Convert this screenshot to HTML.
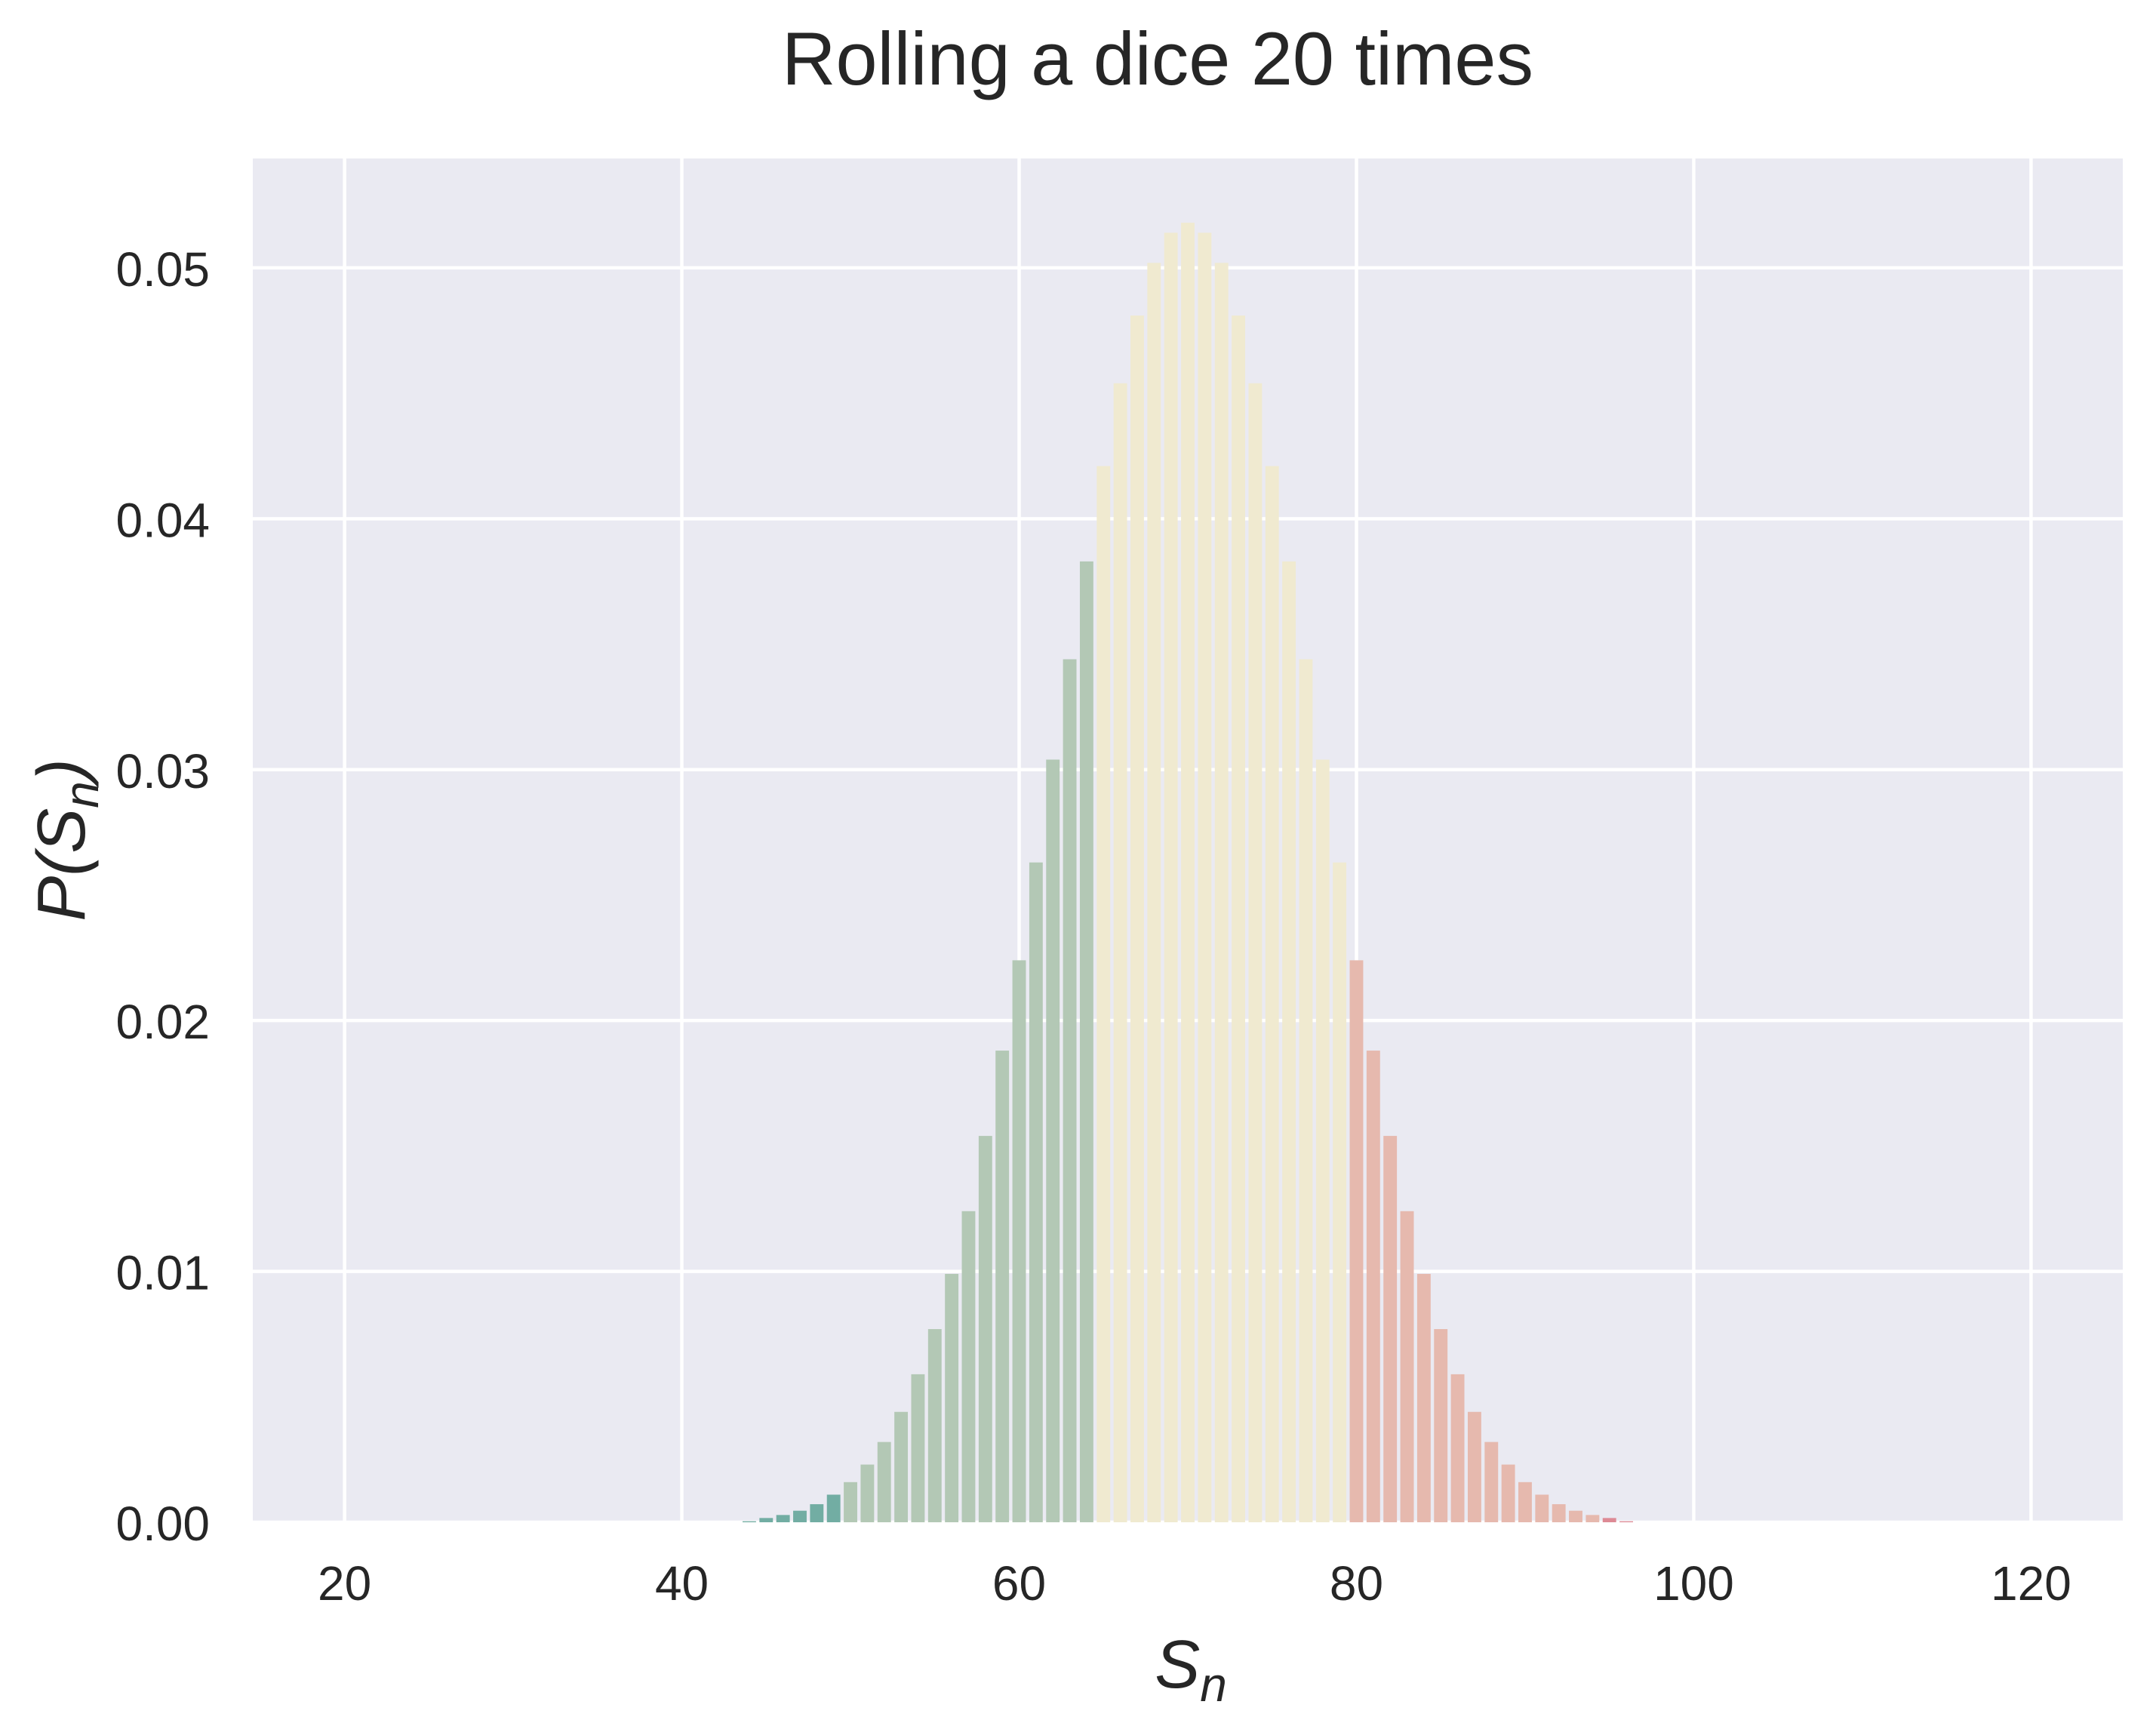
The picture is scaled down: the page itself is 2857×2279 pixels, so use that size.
<!DOCTYPE html>
<html><head><meta charset="utf-8"><style>
html,body{margin:0;padding:0;background:#fff;}
svg{display:block;font-family:"Liberation Sans",sans-serif;}
</style></head><body>
<svg id="chart" width="2857" height="2279" viewBox="0 0 2857 2279" xmlns="http://www.w3.org/2000/svg">
<rect x="0" y="0" width="2857" height="2279" fill="#fff"/>
<text x="1534" y="112" text-anchor="middle" font-size="99" fill="#262626">Rolling a dice 20 times</text>
<rect x="335" y="210" width="2478" height="1807" fill="#eaeaf2"/>
<g id="grid"></g>
<g id="bars"></g>
<g id="xticks"></g>
<g id="yticks"></g>
<text x="1578" y="2236" text-anchor="middle" font-size="90" font-style="italic" fill="#262626">S<tspan font-size="64" dy="18">n</tspan></text>
<text transform="translate(112,1113) rotate(-90)" text-anchor="middle" font-size="90" font-style="italic" fill="#262626">P(S<tspan font-size="64" dy="18">n</tspan><tspan dy="-18">)</tspan></text>
</svg>
<script>
const sums = [];
for (let s = 20; s <= 120; s++) sums.push(s);
// probabilities for sums 20..120
const probs = [
0,0,0,0,0,0,0,0,0,0,            // 20-29
0,0,0,0,0,0,0,0,0,0,            // 30-39
0,0,0,0,0.00004,0.00017,0.00029,0.00046,0.00072,0.0011, // 40-49
0.0016,0.0023,0.0032,0.0044,0.0059,0.0077,0.0099,0.0124,0.0154,0.0188, // 50-59
0.0224,0.0263,0.0304,0.0344,0.0383,0.0421,0.0454,0.0481,0.0502,0.0514, // 60-69
0.0518,0.0514,0.0502,0.0481,0.0454,0.0421,0.0383,0.0344,0.0304,0.0263, // 70-79
0.0224,0.0188,0.0154,0.0124,0.0099,0.0077,0.0059,0.0044,0.0032,0.0023, // 80-89
0.0016,0.0011,0.00072,0.00046,0.00029,0.00017,0.00004,0,0,0, // 90-99
0,0,0,0,0,0,0,0,0,0,            // 100-109
0,0,0,0,0,0,0,0,0,0,0           // 110-120
];
const xTicks = [20,40,60,80,100,120];
const yTicks = [0,0.01,0.02,0.03,0.04,0.05];
const yTickLabels = ["0.00","0.01","0.02","0.03","0.04","0.05"];

const NS = "http://www.w3.org/2000/svg";
const L=335,R=2813,T=210,B=2017;
const xMin=14.56,xMax=125.44,yMax=0.05436;
const xs = v => L + (v-xMin)/(xMax-xMin)*(R-L);
const ys = v => B - v/yMax*(B-T);
function colorFor(s){
  if (s < 50) return "#72ada3";
  if (s < 65) return "#b3c8b5";
  if (s < 80) return "#f0ead0";
  if (s < 95) return "#e6b9ae";
  return "#dd8a95";
}
const grid=document.getElementById('grid');
xTicks.forEach(t=>{
  const l=document.createElementNS(NS,'line');
  
  
  l.setAttribute('x1',xs(t));l.setAttribute('x2',xs(t));l.setAttribute('y1',T);l.setAttribute('y2',B);
  l.setAttribute('stroke','#fff');l.setAttribute('stroke-width','4.5');
  grid.appendChild(l);
});
yTicks.forEach(t=>{
  const l=document.createElementNS(NS,'line');
  
  
  l.setAttribute('x1',L);l.setAttribute('x2',R);l.setAttribute('y1',ys(t));l.setAttribute('y2',ys(t));
  l.setAttribute('stroke','#fff');l.setAttribute('stroke-width','4.5');
  grid.appendChild(l);
});
const bars=document.getElementById('bars');
sums.forEach((s,i)=>{
  const p=probs[i];
  if(!p) return;
  const r=document.createElementNS(NS,'rect');
  
  
  const x0=xs(s-0.4),x1=xs(s+0.4);
  r.setAttribute('x',x0);r.setAttribute('width',x1-x0);
  r.setAttribute('y',ys(p));r.setAttribute('height',B-ys(p));
  r.setAttribute('fill',colorFor(s));
  bars.appendChild(r);
});
const xt=document.getElementById('xticks');
xTicks.forEach(t=>{
  const tx=document.createElementNS(NS,'text');
  
  
  tx.setAttribute('x',xs(t));tx.setAttribute('y',2120);
  tx.setAttribute('text-anchor','middle');tx.setAttribute('font-size','64');tx.setAttribute('fill','#262626');
  tx.textContent=String(t);
  xt.appendChild(tx);
});
const yt=document.getElementById('yticks');
yTicks.forEach((t,i)=>{
  const tx=document.createElementNS(NS,'text');
  
  
  tx.setAttribute('x',278);tx.setAttribute('y',ys(t)+24);
  tx.setAttribute('text-anchor','end');tx.setAttribute('font-size','64');tx.setAttribute('fill','#262626');
  tx.textContent=yTickLabels[i];
  yt.appendChild(tx);
});
</script>
</body></html>
